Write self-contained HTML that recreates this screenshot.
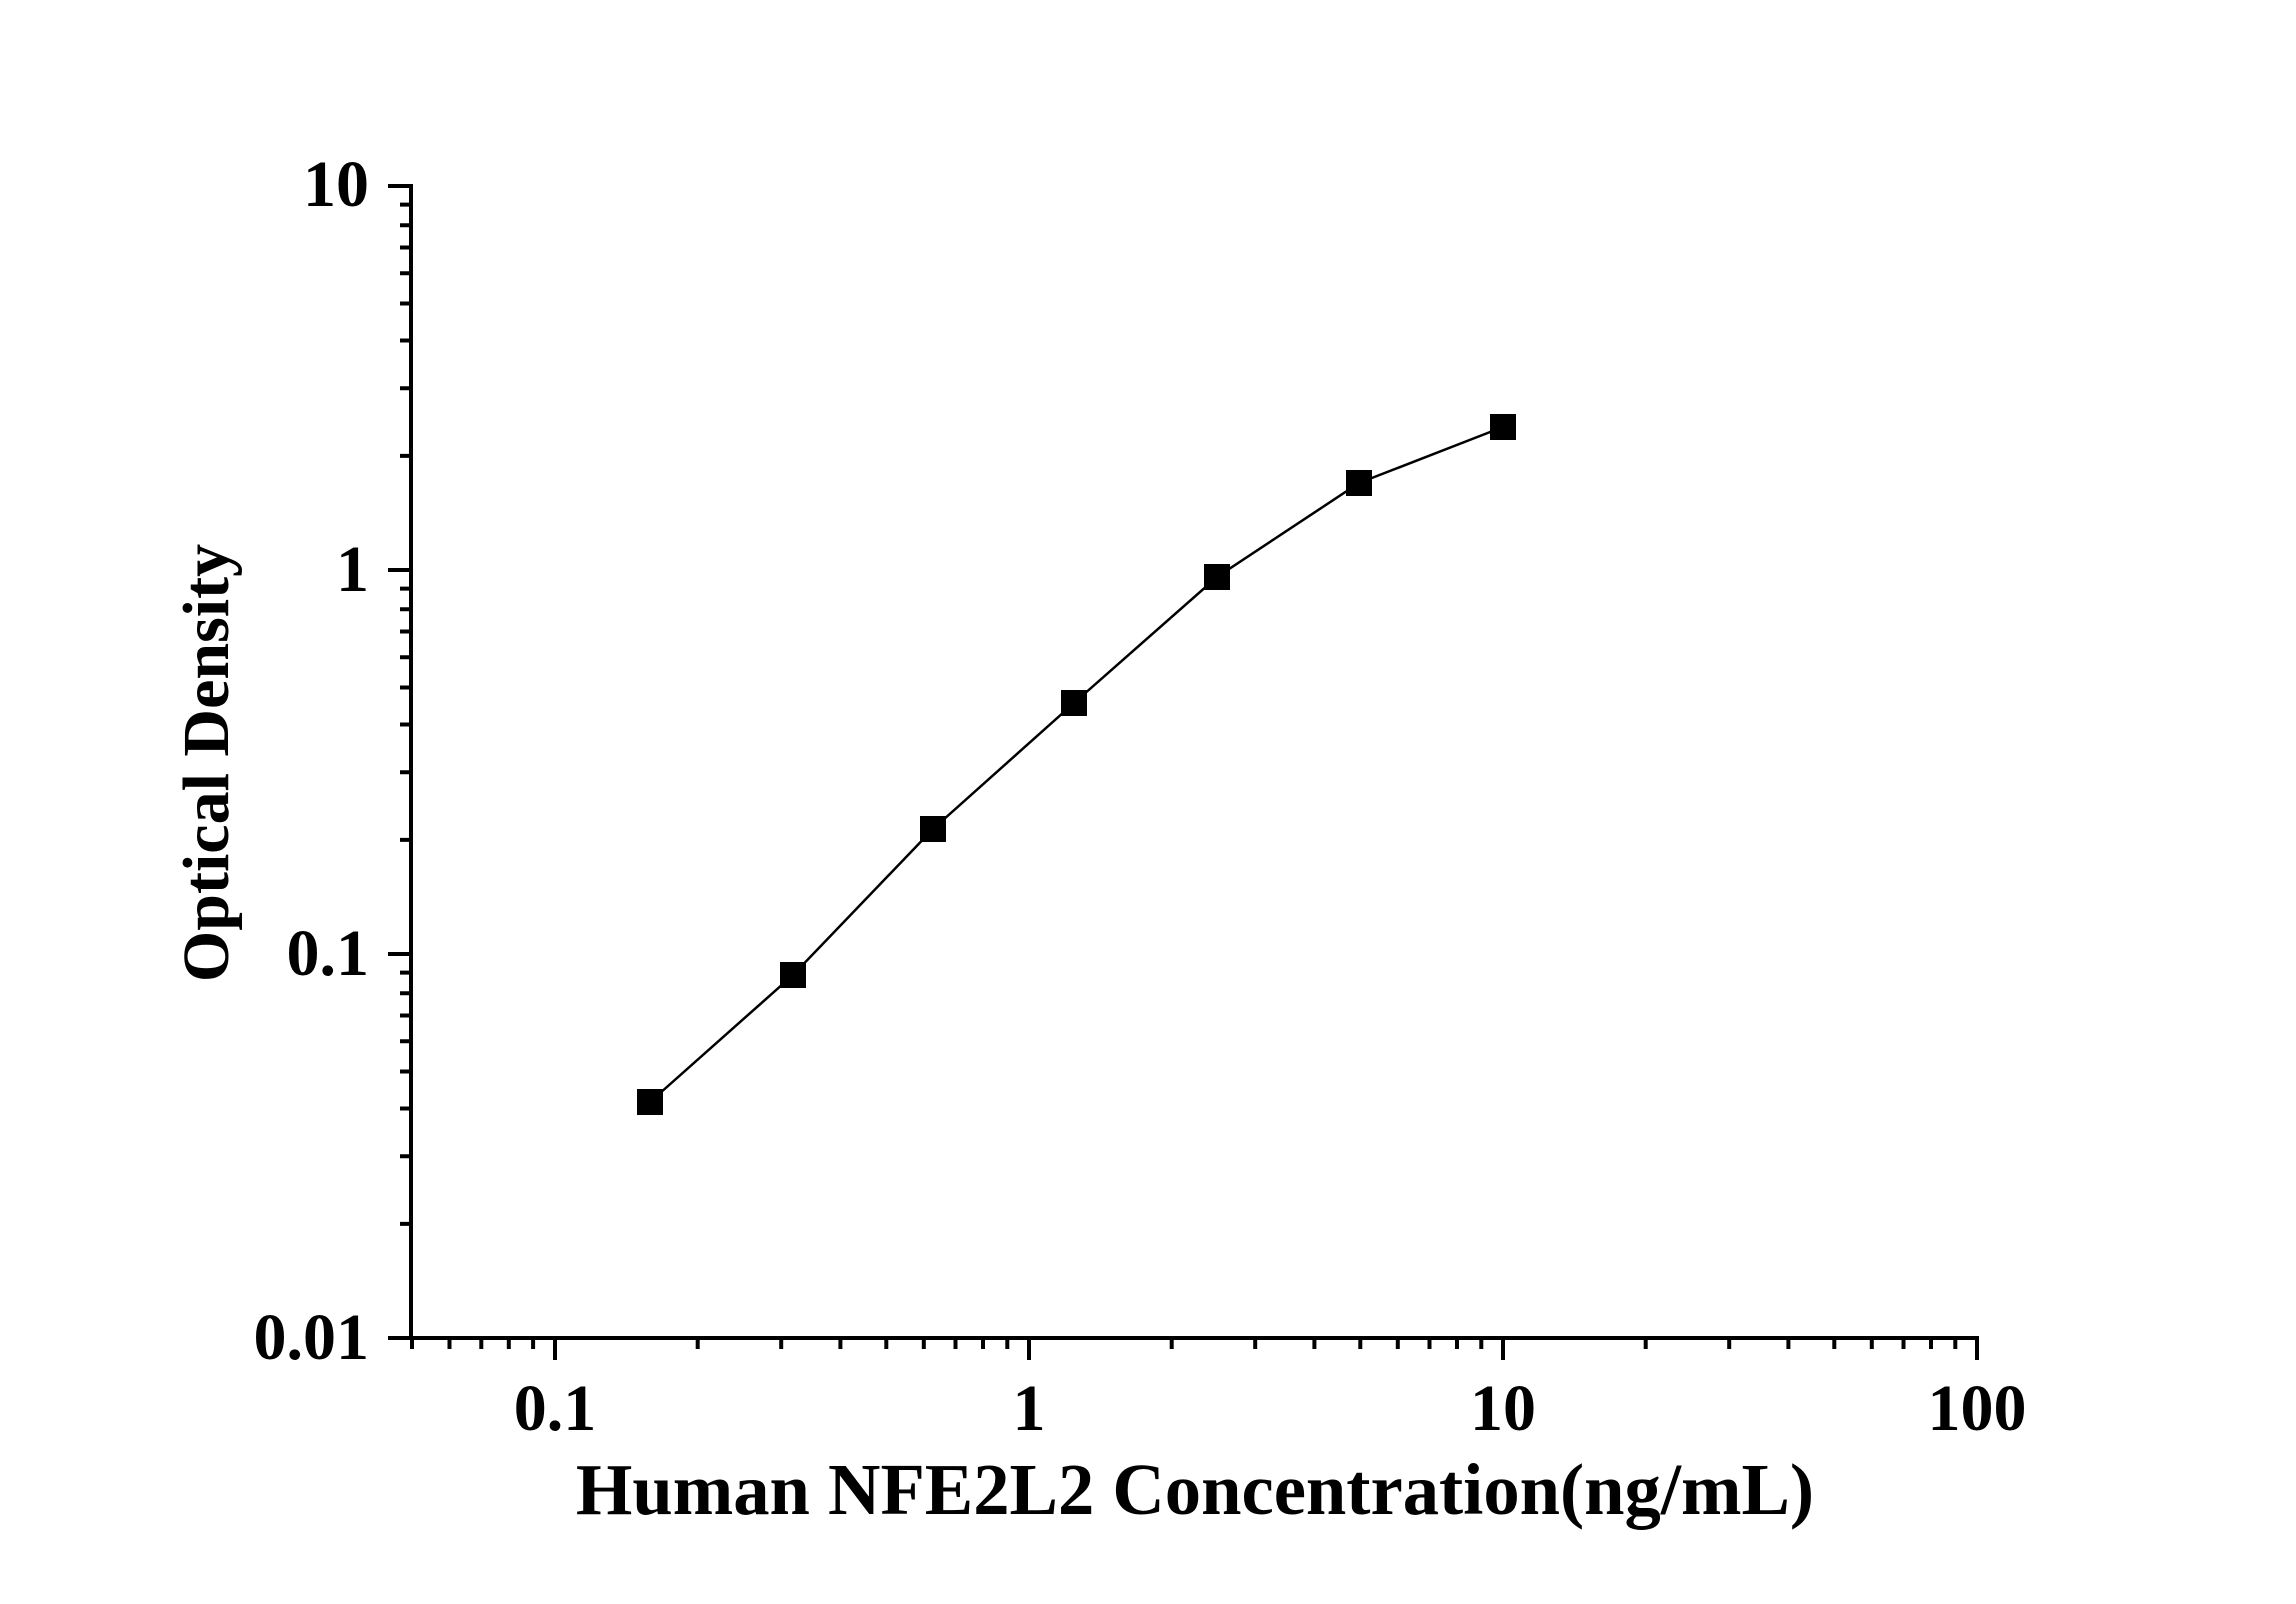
<!DOCTYPE html>
<html><head><meta charset="utf-8"><style>html,body{margin:0;padding:0;background:#fff}svg{display:block}</style></head>
<body>
<svg xmlns="http://www.w3.org/2000/svg" width="2296" height="1604" viewBox="0 0 2296 1604">
<rect width="2296" height="1604" fill="#fff"/>
<g stroke="#000" stroke-width="4" fill="none">
<line x1="411" y1="184" x2="411" y2="1340"/>
<line x1="409" y1="1338" x2="1979" y2="1338"/>
<line x1="388" y1="186" x2="411" y2="186"/>
<line x1="388" y1="570" x2="411" y2="570"/>
<line x1="388" y1="954" x2="411" y2="954"/>
<line x1="388" y1="1338" x2="411" y2="1338"/>
<path d="M400 204.6H411M400 225.3H411M400 247.5H411M400 273.2H411M400 303.5H411M400 340.5H411M400 388.3H411M400 455.9H411
M400 588.6H411M400 609.3H411M400 631.5H411M400 657.2H411M400 687.5H411M400 724.5H411M400 772.3H411M400 839.9H411
M400 972.6H411M400 993.3H411M400 1015.5H411M400 1041.2H411M400 1071.5H411M400 1108.5H411M400 1156.3H411M400 1223.9H411"/>
<line x1="555" y1="1338" x2="555" y2="1360"/>
<line x1="1029" y1="1338" x2="1029" y2="1360"/>
<line x1="1503" y1="1338" x2="1503" y2="1360"/>
<line x1="1977" y1="1338" x2="1977" y2="1360"/>
<path d="M412 1338V1349M449.5 1338V1349M481.3 1338V1349M508.8 1338V1349M533.1 1338V1349
M697.7 1338V1349M781.2 1338V1349M840.4 1338V1349M886.3 1338V1349M923.8 1338V1349M955.5 1338V1349M983 1338V1349M1007.3 1338V1349
M1171.7 1338V1349M1255.2 1338V1349M1314.4 1338V1349M1360.3 1338V1349M1397.8 1338V1349M1429.5 1338V1349M1457 1338V1349M1481.3 1338V1349
M1645.7 1338V1349M1729.2 1338V1349M1788.4 1338V1349M1834.3 1338V1349M1871.8 1338V1349M1903.5 1338V1349M1931 1338V1349M1955.3 1338V1349"/>
</g>
<polyline fill="none" stroke="#000" stroke-width="2.5" points="650,1102 793,975 933,829 1074,703 1217,577 1359,483 1503,427"/>
<g fill="#000">
<rect x="637" y="1089" width="26" height="26"/>
<rect x="780" y="962" width="26" height="26"/>
<rect x="920" y="816" width="26" height="26"/>
<rect x="1061" y="690" width="26" height="26"/>
<rect x="1204" y="564" width="26" height="26"/>
<rect x="1346" y="470" width="26" height="26"/>
<rect x="1490" y="414" width="26" height="26"/>
</g>
<g font-family="Liberation Serif, serif" font-weight="bold" font-size="66" fill="#000">
<text x="369" y="206" text-anchor="end">10</text>
<text x="369" y="591" text-anchor="end">1</text>
<text x="369" y="975" text-anchor="end">0.1</text>
<text x="369" y="1359" text-anchor="end">0.01</text>
<text x="555" y="1430" text-anchor="middle">0.1</text>
<text x="1029" y="1430" text-anchor="middle">1</text>
<text x="1503" y="1430" text-anchor="middle">10</text>
<text x="1977" y="1430" text-anchor="middle">100</text>
<text x="1195" y="1514" text-anchor="middle" font-size="72.6">Human NFE2L2 Concentration(ng/mL)</text>
<text transform="translate(228,763) rotate(-90)" text-anchor="middle" font-size="66">Optical Density</text>
</g>
</svg>
</body></html>
